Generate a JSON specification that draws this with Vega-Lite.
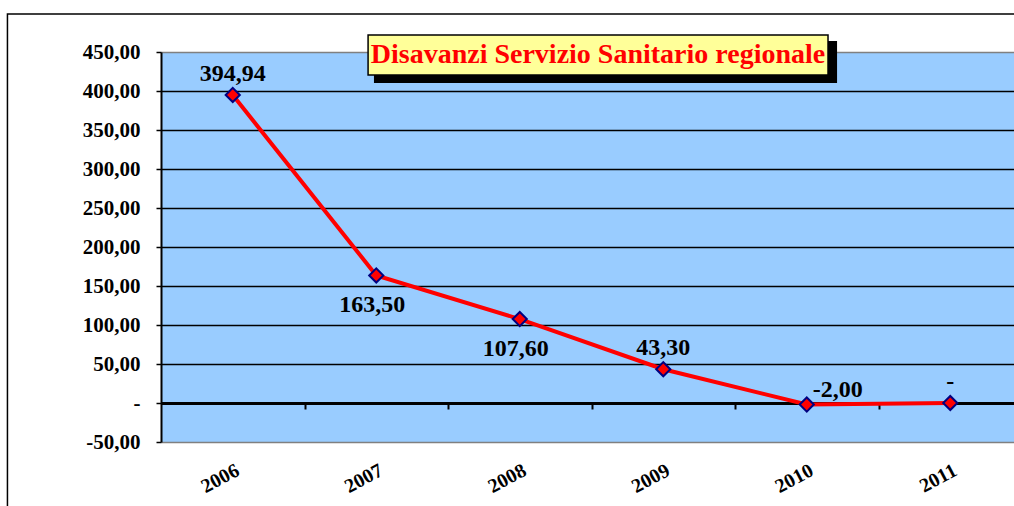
{
  "$schema": "https://vega.github.io/schema/vega-lite/v6.json",
  "width": 853,
  "height": 390,
  "autosize": {"type": "none"},
  "padding": {"left": 161, "top": 52, "right": 0, "bottom": 64},
  "background": "white",
  "config": {
    "locale": {"number": {"decimal": ",", "thousands": ".", "grouping": [3], "currency": ["", " €"], "minus": "-"}},
    "view": {"fill": "#99CCFF", "stroke": null},
    "font": "Liberation Serif",
    "axis": {"labelFont": "Liberation Serif", "labelColor": "black"}
  },
  "data": {
    "values": [
      {"year": 2006, "value": 394.94},
      {"year": 2007, "value": 163.5},
      {"year": 2008, "value": 107.6},
      {"year": 2009, "value": 43.3},
      {"year": 2010, "value": -2.0},
      {"year": 2011, "value": 0}
    ]
  },
  "layer": [
    {
      "mark": {"type": "line", "color": "#FF0000", "strokeWidth": 4},
      "encoding": {
        "x": {
          "field": "year", "type": "quantitative",
          "scale": {"domain": [2005.5, 2011.444], "nice": false, "zero": false},
          "axis": {
            "orient": "bottom",
            "values": [2006.5, 2007.5, 2008.5, 2009.5, 2010.5],
            "labels": false, "domain": false, "grid": false,
            "ticks": true, "tickSize": 6, "tickColor": "black", "tickWidth": 2,
            "offset": -39, "title": null
          }
        },
        "y": {
          "field": "value", "type": "quantitative",
          "scale": {"domain": [-50, 450], "nice": false, "zero": false},
          "axis": {
            "orient": "left",
            "values": [-50, 0, 50, 100, 150, 200, 250, 300, 350, 400, 450],
            "format": ",.2f",
            "labelExpr": "datum.value === 0 ? '-' : datum.label",
            "title": null,
            "labelFontSize": 21,
            "labelFontWeight": "bold",
            "labelPadding": 16,
            "tickSize": 5, "tickColor": "black", "tickWidth": 1.5,
            "domain": true, "domainColor": "black", "domainWidth": 2,
            "grid": true,
            "gridColor": {"condition": {"test": "datum.value === 450 || datum.value === -50", "value": "#808080"}, "value": "black"},
            "gridWidth": {"condition": {"test": "datum.value === 0", "value": 3}, "value": 1.5},
            "gridOpacity": 1
          }
        }
      }
    },
    {
      "mark": {"type": "point", "shape": "diamond", "filled": true, "fill": "#FF0000", "stroke": "#000080", "strokeWidth": 2, "size": 200, "opacity": 1},
      "encoding": {
        "x": {
          "field": "year", "type": "quantitative",
          "axis": {
            "orient": "bottom",
            "values": [2006, 2007, 2008, 2009, 2010, 2011],
            "format": "d",
            "labelAngle": -28,
            "labelFontSize": 20,
            "labelFontWeight": "bold",
            "ticks": false, "domain": false, "grid": false,
            "labelPadding": 18,
            "title": null
          }
        },
        "y": {"field": "value", "type": "quantitative", "axis": null}
      }
    },
    {
      "data": {"values": [{}]},
      "mark": {"type": "rect", "filled": false, "stroke": "black", "strokeWidth": 1.5, "clip": false},
      "encoding": {
        "x": {"datum": 2004.43, "type": "quantitative", "axis": null},
        "x2": {"datum": 2013},
        "y": {"datum": 498.7, "type": "quantitative", "axis": null},
        "y2": {"datum": -250}
      }
    },
    {
      "transform": [{"filter": {"field": "year", "oneOf": [2006, 2009, 2011]}}],
      "mark": {"type": "text", "fontSize": 24, "fontWeight": "bold", "color": "black", "dy": -21, "baseline": "middle", "align": "center"},
      "encoding": {
        "x": {"field": "year", "type": "quantitative", "axis": null},
        "y": {"field": "value", "type": "quantitative", "axis": null},
        "text": {"condition": {"test": "datum.value === 0", "value": "-"}, "field": "value", "type": "quantitative", "format": ",.2f"}
      }
    },
    {
      "transform": [{"filter": {"field": "year", "oneOf": [2007, 2008]}}],
      "mark": {"type": "text", "fontSize": 24, "fontWeight": "bold", "color": "black", "dy": 30, "dx": -4, "baseline": "middle", "align": "center"},
      "encoding": {
        "x": {"field": "year", "type": "quantitative", "axis": null},
        "y": {"field": "value", "type": "quantitative", "axis": null},
        "text": {"field": "value", "type": "quantitative", "format": ",.2f"}
      }
    },
    {
      "transform": [{"filter": {"field": "year", "oneOf": [2010]}}],
      "mark": {"type": "text", "fontSize": 24, "fontWeight": "bold", "color": "black", "dy": -15, "dx": 6, "baseline": "middle", "align": "left"},
      "encoding": {
        "x": {"field": "year", "type": "quantitative", "axis": null},
        "y": {"field": "value", "type": "quantitative", "axis": null},
        "text": {"field": "value", "type": "quantitative", "format": ",.2f"}
      }
    },
    {
      "data": {"values": [{}]},
      "mark": {"type": "rect", "fill": "black", "clip": false},
      "encoding": {
        "x": {"datum": 2006.984, "type": "quantitative", "axis": null},
        "x2": {"datum": 2010.211},
        "y": {"datum": 464.1, "type": "quantitative", "axis": null},
        "y2": {"datum": 410.3}
      }
    },
    {
      "data": {"values": [{}]},
      "mark": {"type": "rect", "fill": "#FFFF99", "stroke": "black", "strokeWidth": 1.5, "clip": false},
      "encoding": {
        "x": {"datum": 2006.943, "type": "quantitative", "axis": null},
        "x2": {"datum": 2010.148},
        "y": {"datum": 471.8, "type": "quantitative", "axis": null},
        "y2": {"datum": 420.5}
      }
    },
    {
      "data": {"values": [{}]},
      "mark": {"type": "text", "text": "Disavanzi Servizio Sanitario regionale", "fontSize": 28, "fontWeight": "bold", "color": "#FF0000", "align": "center", "baseline": "middle", "clip": false},
      "encoding": {
        "x": {"datum": 2008.545, "type": "quantitative", "axis": null},
        "y": {"datum": 446.2, "type": "quantitative", "axis": null}
      }
    }
  ],
  "resolve": {"axis": {"x": "independent", "y": "independent"}}
}
